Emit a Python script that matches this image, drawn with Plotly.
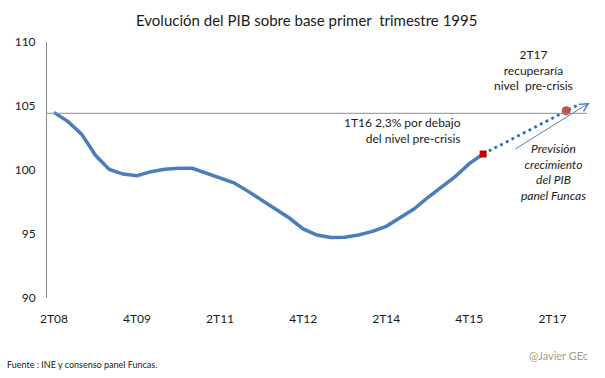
import plotly.graph_objects as go

# Quarter categories 2T08 .. 4T17
quarters = []
q, y = 2, 8
while (y, q) <= (17, 4):
    quarters.append(f"{q}T{y:02d}")
    q += 1
    if q > 4:
        q, y = 1, y + 1

# Observed GDP index (2T08 .. 1T16)
pib_obs = [104.5, 103.8, 102.8, 101.15, 100.05, 99.68, 99.55, 99.87, 100.05, 100.13,
           100.13, 99.76, 99.35, 99.0, 98.35, 97.65, 97.0, 96.25, 95.4, 94.92,
           94.72, 94.75, 94.92, 95.2, 95.6, 96.25, 96.95, 97.85, 98.7, 99.5,
           100.5, 101.25]
# Funcas forecast (1T16 .. 4T17)
pib_prev = [101.25, 101.8, 102.35, 102.95, 103.5, 104.05, 104.63, 105.15]
pre_crisis = 104.43
tick_labels = ["2T08", "4T09", "2T11", "4T12", "2T14", "4T15", "2T17"]

x_obs = quarters[:len(pib_obs)]
x_prev = quarters[len(pib_obs) - 1:len(pib_obs) - 1 + len(pib_prev)]

FONT = "Lato"
TXT = "#1a1a1a"
L, R, T, B = 47, 18, 42, 80

fig = go.Figure()
fig.add_trace(go.Scatter(x=x_obs, y=pib_obs, mode="lines",
                         line=dict(color="#4a7ebb", width=3.5), hoverinfo="skip"))
fig.add_trace(go.Scatter(x=x_prev, y=pib_prev, mode="lines",
                         line=dict(color="#2a6bb3", width=2.8, dash="2.8px,3.6px"), hoverinfo="skip"))
fig.add_trace(go.Scatter(x=[x_obs[-1]], y=[pib_obs[-1]], mode="markers",
                         marker=dict(color="#c00000", size=7, symbol="square"), hoverinfo="skip"))
fig.add_trace(go.Scatter(x=[x_prev[6]], y=[pib_prev[6]], mode="markers",
                         marker=dict(color="#c0504d", size=9), hoverinfo="skip"))

fig.add_shape(type="line", xref="paper", yref="y", x0=0, x1=1, y0=pre_crisis, y1=pre_crisis,
              line=dict(color="#8c8c8c", width=1))

# Forecast arrow
fig.add_annotation(x=38.7, y=105.26, ax=33.2, ay=101.56, xref="x", yref="y", axref="x", ayref="y",
                   text="", showarrow=True, arrowhead=5, arrowsize=1.6, arrowwidth=1,
                   arrowcolor="#4f81bd")

fig.update_layout(
    width=605, height=378,
    margin=dict(l=L, r=R, t=T, b=B),
    paper_bgcolor="white", plot_bgcolor="white",
    showlegend=False,
    font=dict(family=FONT, size=12, color=TXT),
    xaxis=dict(type="category", categoryorder="array", categoryarray=quarters,
               range=[-0.5, len(quarters) - 0.5], tickmode="array", tickvals=tick_labels,
               ticktext=tick_labels, showgrid=False, showline=False, zeroline=False,
               ticks="", ticklabelstandoff=12, tickfont=dict(size=12, color=TXT)),
    yaxis=dict(range=[90, 110], tickvals=[90, 95, 100, 105, 110], showgrid=False,
               showline=True, linecolor="#8c8c8c", linewidth=1, zeroline=False, ticks="",
               ticklabelstandoff=8, tickfont=dict(size=12, color=TXT)),
)

def add_px(xp, yp, text, anchor="center", font=None, align="center"):
    # pixel position in the 605x378 image -> paper coordinates
    w, h = 605 - L - R, 378 - T - B
    fig.add_annotation(x=(xp - L) / w, y=1 - (yp - T) / h, xref="paper", yref="paper",
                       text=text, showarrow=False, xanchor=anchor, yanchor="middle",
                       font=font or dict(family=FONT, size=12, color=TXT), align=align)

add_px(306, 20, "Evolución del PIB sobre base primer  trimestre 1995",
       font=dict(family=FONT, size=15, color=TXT))
add_px(533, 70, "2T17<br>recuperaría<br>nivel  pre-crisis")
add_px(463, 130, "1T16 2,3% por debajo<br>del nivel pre-crisis", anchor="right", align="right")
add_px(553, 172, "<i>Previsión<br>crecimiento<br>del PIB<br>panel Funcas</i>")
add_px(5, 364, "Fuente : INE y consenso panel Funcas.", anchor="left",
       font=dict(family=FONT, size=9, color=TXT))
add_px(590, 355, "@Javier GEc", anchor="right", font=dict(family=FONT, size=11, color="#a49e80"))

fig.write_html("out.html", config={"displayModeBar": False},
               post_script="document.body.style.margin='0';")
